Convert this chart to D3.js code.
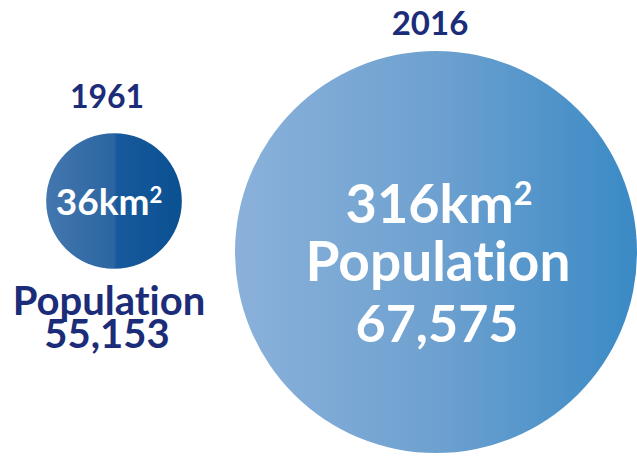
<!DOCTYPE html>
<html>
<head>
<meta charset="utf-8">
<script src="https://cdn.jsdelivr.net/npm/d3@7"></script>
<style>
  html, body { margin: 0; padding: 0; background: #ffffff; }
  svg { display: block; }
  text {
    font-family: Lato, "Open Sans", sans-serif;
    font-weight: 700;
    font-variant-ligatures: none;
    font-feature-settings: "liga" 0, "dlig" 0;
  }
</style>
</head>
<body>
<svg id="chart" width="637" height="458"></svg>
<script>
// Land area and population of the town in two census years
const years = ["1961", "2016"];
const areas = [36, 316];            // km²
const populations = [55153, 67575];

const svg = d3.select("#chart");
const fmt = d3.format(",");

// circle area proportional to land area
const r = d3.scaleSqrt().domain([0, 316]).range([0, 201]);

const layout = [
  { cx: 114, cy: 201, grad: "gSmall" },
  { cx: 436, cy: 252, grad: "gBig" }
];

const defs = svg.append("defs");
const gradients = [
  { id: "gSmall", stops: [["0%", "#4477ae"], ["50%", "#2b65a2"], ["52%", "#17599c"], ["100%", "#0a5192"]] },
  { id: "gBig", stops: [["0%", "#8ab1da"], ["50%", "#6ea1d0"], ["100%", "#3a8ac5"]] }
];
gradients.forEach(g => {
  const lg = defs.append("linearGradient").attr("id", g.id)
    .attr("x1", "0%").attr("x2", "100%").attr("y1", "0%").attr("y2", "0%");
  g.stops.forEach(s => lg.append("stop").attr("offset", s[0]).attr("stop-color", s[1]));
});

const data = years.map((y, i) => ({ year: y, area: areas[i], pop: populations[i], ...layout[i] }));

svg.selectAll("circle.bubble").data(data).join("circle")
  .attr("class", "bubble")
  .attr("cx", d => d.cx).attr("cy", d => d.cy)
  .attr("r", d => r(d.area))
  .attr("fill", d => `url(#${d.grad})`);

const navy = "#1b2c78";

// year labels above each circle
svg.selectAll("text.year").data(data).join("text")
  .attr("class", "year")
  .attr("x", (d, i) => i === 0 ? 107 : 430)
  .attr("y", (d, i) => i === 0 ? 108 : 35)
  .attr("text-anchor", "middle")
  .attr("fill", navy)
  .attr("font-size", (d, i) => i === 0 ? 32 : 33)
  .text(d => d.year);

// area label with superscript 2
function areaLabel(sel, d, x, y, size, color) {
  const t = sel.append("text")
    .attr("x", x).attr("y", y)
    .attr("text-anchor", "middle")
    .attr("fill", color)
    .attr("font-size", size);
  t.append("tspan").text(d.area + "km");
  t.append("tspan").attr("font-size", size * 0.6).attr("dy", -size * 0.33).text("2");
}

// 1961: area inside, population below
const d0 = data[0];
areaLabel(svg, d0, 109, 215, 37, "#ffffff");
svg.append("text").attr("x", 109).attr("y", 315).attr("text-anchor", "middle")
  .attr("fill", navy).attr("font-size", 40).text("Population");
svg.append("text").attr("x", 107).attr("y", 348).attr("text-anchor", "middle")
  .attr("fill", navy).attr("font-size", 40).text(fmt(d0.pop));

// 2016: everything inside the circle
const d1 = data[1];
areaLabel(svg, d1, 439, 223, 54, "#ffffff");
svg.append("text").attr("x", 438).attr("y", 281).attr("text-anchor", "middle")
  .attr("fill", "#ffffff").attr("font-size", 55).text("Population");
svg.append("text").attr("x", 437).attr("y", 342).attr("text-anchor", "middle")
  .attr("fill", "#ffffff").attr("font-size", 52).text(fmt(d1.pop));
</script>
</body>
</html>
